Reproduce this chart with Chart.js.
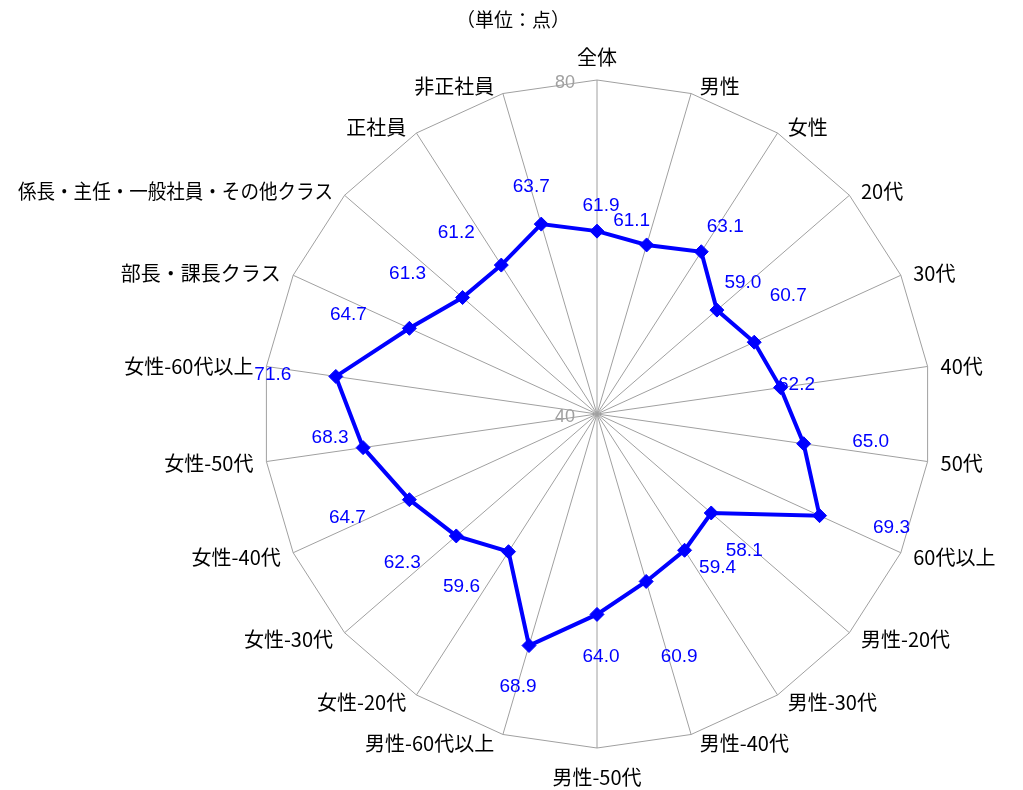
<!DOCTYPE html>
<html>
<head>
<meta charset="utf-8">
<script src="https://cdn.jsdelivr.net/npm/chart.js@4.4.0/dist/chart.umd.min.js"></script>
<style>
  html, body { margin: 0; padding: 0; background: #fff; }
  #wrap { width: 1023px; height: 790px; }
</style>
</head>
<body>
<div id="wrap"><canvas id="chart"></canvas></div>
<script>
// 項目（時計回り、上から）
const categories = [
  '全体', '男性', '女性', '20代', '30代', '40代', '50代', '60代以上',
  '男性-20代', '男性-30代', '男性-40代', '男性-50代', '男性-60代以上',
  '女性-20代', '女性-30代', '女性-40代', '女性-50代', '女性-60代以上',
  '部長・課長クラス', '係長・主任・一般社員・その他クラス', '正社員', '非正社員'
];
// スコア（単位：点）
const scores = [
  61.9, 61.1, 63.1, 59.0, 60.7, 62.2, 65.0, 69.3,
  58.1, 59.4, 60.9, 64.0, 68.9,
  59.6, 62.3, 64.7, 68.3, 71.6,
  64.7, 61.3, 61.2, 63.7
];
const tickValues = [40, 80];
const unitLabel = '（単位：点）';

// 値ラベルを点からどれだけずらすか（px）
const labelShift = [
  [4, -25], [-15, -24], [24, -25], [26, -27], [34, -46], [16, -3], [67, -2], [72, 12],
  [33, 38], [33, 17], [33, 75], [4, 42], [-11, 41],
  [-47, 35], [-54, 27], [-62, 18], [-33, -10], [-63, -2],
  [-61, -14], [-55, -24], [-45, -32], [-10, -37]
];

const jpFont = '"Noto Sans CJK JP", "Noto Sans", sans-serif';
const numFont = '"Liberation Sans", Arial, sans-serif';

// ラベル類は自前で描く（Chart.jsの自動配置だと半径が縮むため）
const radarText = {
  id: 'radarText',
  afterDatasetsDraw(chart) {
    const ctx = chart.ctx;
    const scale = chart.scales.r;
    const meta = chart.getDatasetMeta(0);
    ctx.save();

    // 目盛
    ctx.fillStyle = '#a0a0a0';
    ctx.font = '18px ' + numFont;
    ctx.textAlign = 'right';
    ctx.textBaseline = 'middle';
    tickValues.forEach(v => {
      const d = scale.getDistanceFromCenterForValue(v);
      ctx.fillText(String(v), scale.xCenter - 22, scale.yCenter - d + 3);
    });

    // 項目名
    ctx.fillStyle = '#000';
    ctx.font = '20px ' + jpFont;
    categories.forEach((name, i) => {
      const a = scale.getIndexAngle(i);
      const s = Math.sin(a), c = Math.cos(a);
      const p = scale.getPointPosition(i, scale.drawingArea);
      ctx.textBaseline = 'middle';
      if (Math.abs(s) < 0.05) {
        ctx.textAlign = 'center';
        ctx.fillText(name, p.x, c > 0 ? p.y - 23 : p.y + 29);
      } else if (s > 0) {
        ctx.textAlign = 'left';
        const dx = 7 + 6 * s;
        ctx.fillText(name, p.x + dx, p.y - 8 * c + 1);
      } else {
        ctx.textAlign = 'right';
        const dx = 7 - 6 * s;
        // 左端からはみ出す長いラベルは詰める
        const room = p.x - dx - 18;
        ctx.fillText(name, p.x - dx, p.y - 8 * c + 1, room);
      }
    });

    // 値ラベル
    ctx.fillStyle = '#0000ff';
    ctx.font = '19px ' + numFont;
    ctx.textAlign = 'center';
    ctx.textBaseline = 'middle';
    meta.data.forEach((pt, i) => {
      const off = labelShift[i];
      ctx.fillText(scores[i].toFixed(1), pt.x + off[0], pt.y + off[1]);
    });

    // 単位
    ctx.fillStyle = '#000';
    ctx.font = '19px ' + jpFont;
    ctx.fillText(unitLabel, 513, 20);

    ctx.restore();
  }
};

new Chart(document.getElementById('chart'), {
  type: 'radar',
  data: {
    labels: categories,
    datasets: [{
      data: scores,
      borderColor: '#0000ff',
      borderWidth: 4,
      backgroundColor: 'rgba(0,0,0,0)',
      fill: false,
      pointStyle: 'rectRot',
      pointRadius: 7,
      pointBackgroundColor: '#0000ff',
      pointBorderColor: '#0000ff',
      pointBorderWidth: 1
    }]
  },
  options: {
    responsive: true,
    maintainAspectRatio: false,
    animation: false,
    layout: { padding: { left: 263, right: 92, top: 80, bottom: 42 } },
    plugins: {
      legend: { display: false },
      tooltip: { enabled: false }
    },
    scales: {
      r: {
        min: 40,
        max: 80,
        ticks: { stepSize: 40, display: false },
        grid: { color: '#a0a0a0', lineWidth: 1 },
        angleLines: { color: '#a0a0a0', lineWidth: 1 },
        pointLabels: { display: false }
      }
    }
  },
  plugins: [radarText]
});
</script>
</body>
</html>
